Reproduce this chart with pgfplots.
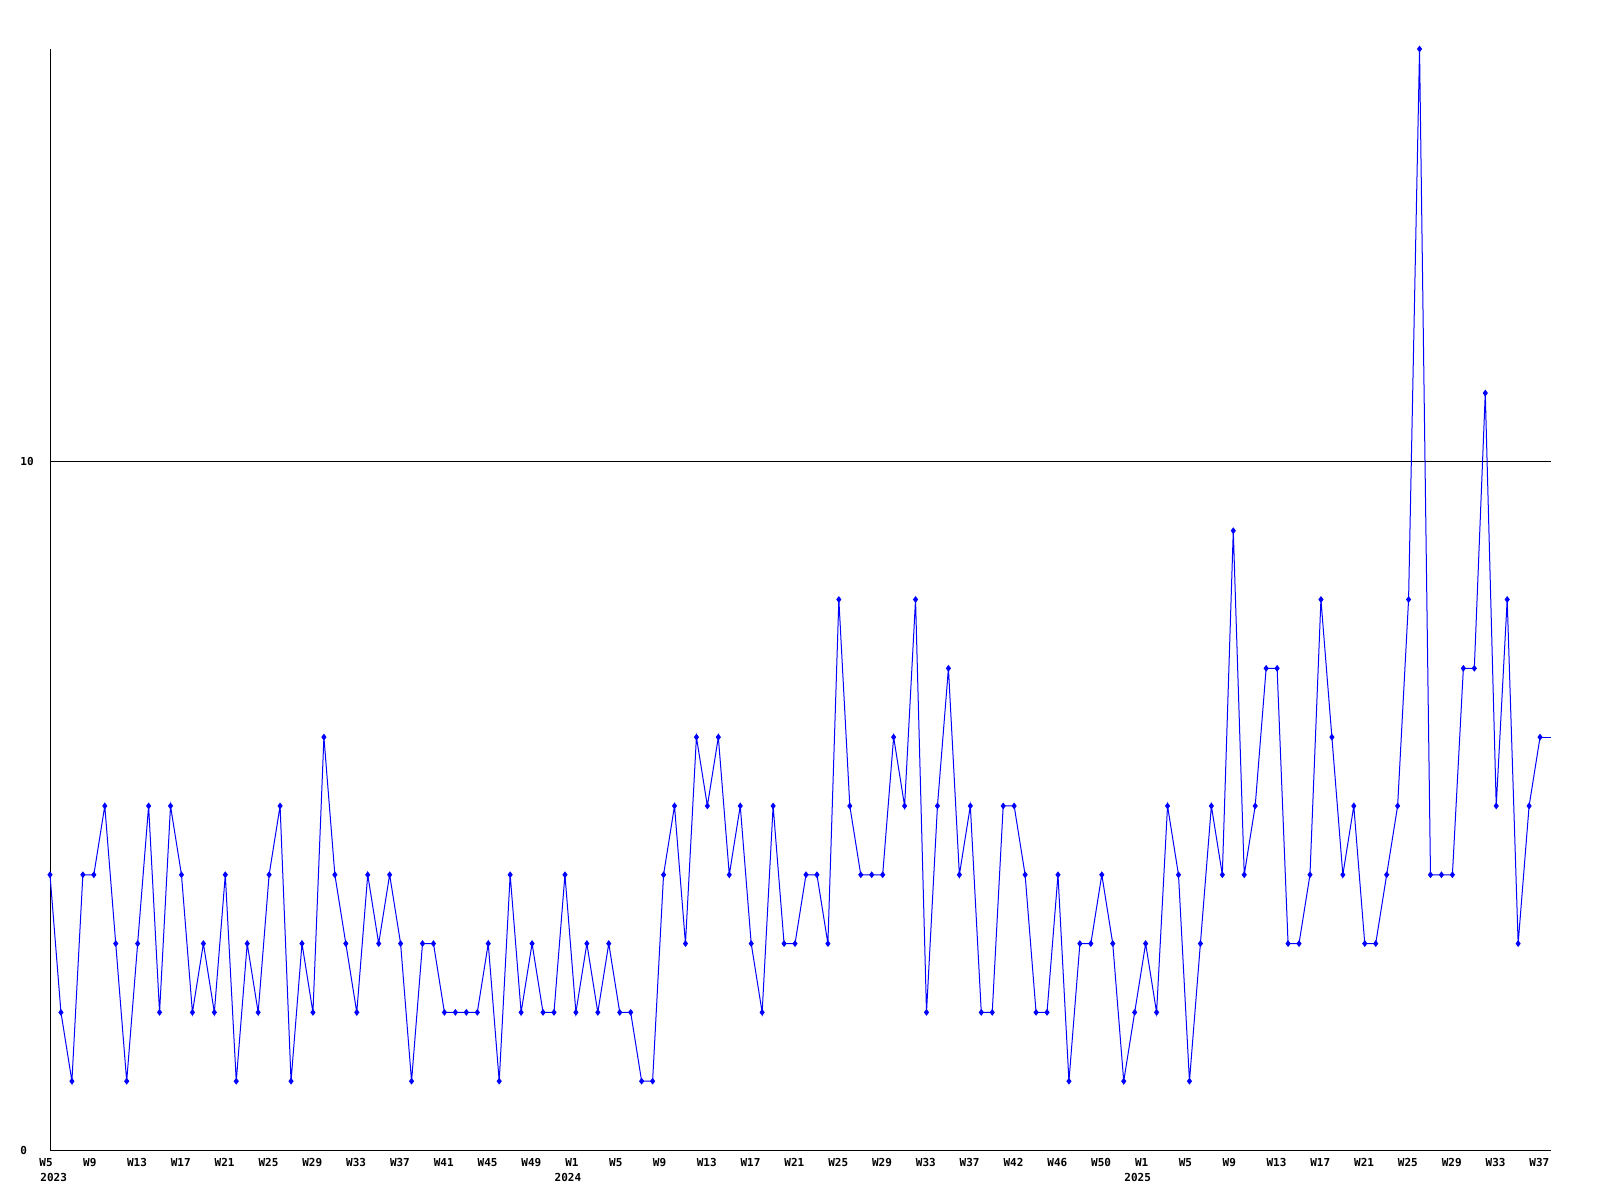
\documentclass[border=0pt]{standalone}
\usepackage{pgfplots}
\pgfplotsset{compat=1.18}
\usepackage{fontspec}
\setmonofont{DejaVu Sans Mono}
\definecolor{lineblue}{RGB}{0,0,255}
\begin{document}
\begin{tikzpicture}
\fill[white] (0,0) rectangle (800pt,600pt);
\useasboundingbox (0,0) rectangle (800pt,600pt);
\begin{axis}[
  at={(25pt,25pt)}, anchor=south west,
  scale only axis, width=750.5pt, height=550.5pt,
  xmin=0, xmax=137, ymin=0, ymax=16,
  axis x line=bottom, axis y line=left,
  axis line style={black, line width=0.5pt, -},
  major tick length=0pt,
  ytick={0,10},
  ymajorgrids, grid style={black, line width=0.5pt},
  xtick={0,4,8,12,16,20,24,28,32,36,40,44,48,52,56,60,64,68,72,76,80,84,88,92,96,100,104,108,112,116,120,124,128,132,136},
  xticklabels={W5,W9,W13,W17,W21,W25,W29,W33,W37,W41,W45,W49,W1,W5,W9,W13,W17,W21,W25,W29,W33,W37,W42,W46,W50,W1,W5,W9,W13,W17,W21,W25,W29,W33,W37},
  xticklabel style={anchor=north west, inner sep=0pt, xshift=-5.5pt, yshift=-4pt, font=\fontsize{5.5}{6}\selectfont\ttfamily\bfseries},
  yticklabel style={anchor=west, inner sep=0pt, xshift=-15pt, font=\fontsize{5.5}{6}\selectfont\ttfamily\bfseries},
  /pgf/number format/assume math mode=true,
  clip=false,
]
\addplot[color=lineblue, line width=0.5pt, mark=diamond*, mark size=1.3pt, mark options={fill=lineblue}] coordinates {
(0,4)(1,2)(2,1)(3,4)(4,4)(5,5)(6,3)(7,1)(8,3)(9,5)
(10,2)(11,5)(12,4)(13,2)(14,3)(15,2)(16,4)(17,1)(18,3)(19,2)
(20,4)(21,5)(22,1)(23,3)(24,2)(25,6)(26,4)(27,3)(28,2)(29,4)
(30,3)(31,4)(32,3)(33,1)(34,3)(35,3)(36,2)(37,2)(38,2)(39,2)
(40,3)(41,1)(42,4)(43,2)(44,3)(45,2)(46,2)(47,4)(48,2)(49,3)
(50,2)(51,3)(52,2)(53,2)(54,1)(55,1)(56,4)(57,5)(58,3)(59,6)
(60,5)(61,6)(62,4)(63,5)(64,3)(65,2)(66,5)(67,3)(68,3)(69,4)
(70,4)(71,3)(72,8)(73,5)(74,4)(75,4)(76,4)(77,6)(78,5)(79,8)
(80,2)(81,5)(82,7)(83,4)(84,5)(85,2)(86,2)(87,5)(88,5)(89,4)
(90,2)(91,2)(92,4)(93,1)(94,3)(95,3)(96,4)(97,3)(98,1)(99,2)
(100,3)(101,2)(102,5)(103,4)(104,1)(105,3)(106,5)(107,4)(108,9)(109,4)
(110,5)(111,7)(112,7)(113,3)(114,3)(115,4)(116,8)(117,6)(118,4)(119,5)
(120,3)(121,3)(122,4)(123,5)(124,8)(125,16)(126,4)(127,4)(128,4)(129,7)
(130,7)(131,11)(132,5)(133,8)(134,3)(135,5)(136,6)
};
\addplot[color=lineblue, line width=0.5pt, mark=none] coordinates {(136,6)(137,6)};
\node[anchor=north west, inner sep=0pt, xshift=-5pt, yshift=-11.5pt, font=\fontsize{5.5}{6}\selectfont\ttfamily\bfseries] at (axis cs:0,0) {2023};
\node[anchor=north west, inner sep=0pt, xshift=-10.8pt, yshift=-11.5pt, font=\fontsize{5.5}{6}\selectfont\ttfamily\bfseries] at (axis cs:48,0) {2024};
\node[anchor=north west, inner sep=0pt, xshift=-10.8pt, yshift=-11.5pt, font=\fontsize{5.5}{6}\selectfont\ttfamily\bfseries] at (axis cs:100,0) {2025};
\end{axis}
\end{tikzpicture}
\end{document}
